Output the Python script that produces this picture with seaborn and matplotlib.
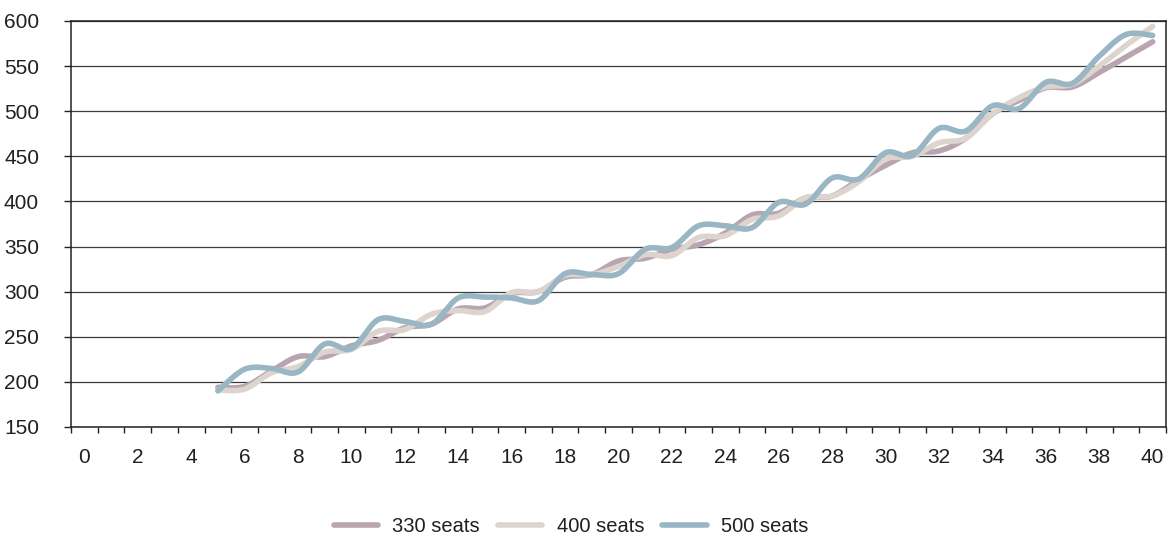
import numpy as np
import pandas as pd
import seaborn as sns
import matplotlib.pyplot as plt
from matplotlib import font_manager

# ==========================================
# SETUP & THEMING
# ==========================================
sns.set_theme(style="ticks")
installed = {f.name for f in font_manager.fontManager.ttflist}
main_font = 'Liberation Sans Narrow' if 'Liberation Sans Narrow' in installed else 'Liberation Sans'
plt.rcParams['font.family'] = [main_font, 'DejaVu Sans']

# ==========================================
# DATA
# ==========================================
x_categories = list(range(0, 41))
x_values = list(range(5, 41))

seats_330 = [194, 195, 212, 228, 228, 240, 246, 260, 264, 281,
             282, 298, 300, 316, 319, 334, 337, 347, 352, 365,
             385, 387, 404, 406, 424, 440, 454, 456, 470, 497,
             512, 526, 527, 543, 560, 577]
seats_400 = [191, 192, 210, 217, 233, 236, 256, 258, 275, 279,
             278, 299, 300, 318, 319, 328, 341, 340, 360, 362,
             380, 384, 404, 406, 422, 447, 450, 465, 470, 497,
             515, 527, 530, 550, 573, 594]
seats_500 = [190, 214, 215, 211, 242, 237, 269, 267, 264, 293,
             294, 293, 290, 320, 319, 320, 347, 349, 373, 373,
             371, 399, 397, 426, 425, 454, 451, 481, 478, 506,
             503, 532, 531, 561, 585, 584]

series_names = ['330 seats', '400 seats', '500 seats']
series_colors = ['#b8a5b0', '#ddd4cd', '#98b6c3']
y_ticks = list(range(150, 601, 50))


def smooth_line(xs, ys, steps=16):
    """Excel-like smoothed line (Catmull-Rom between the data points)."""
    pts = np.column_stack([xs, ys]).astype(float)
    padded = np.vstack([pts[0], pts, pts[-1]])
    out = []
    for i in range(1, len(padded) - 2):
        p0, p1, p2, p3 = padded[i - 1], padded[i], padded[i + 1], padded[i + 2]
        c1 = p1 + (p2 - p0) / 6.0
        c2 = p2 - (p3 - p1) / 6.0
        t = np.linspace(0, 1, steps, endpoint=False)[:, None]
        seg = ((1 - t) ** 3) * p1 + 3 * ((1 - t) ** 2) * t * c1 + 3 * (1 - t) * t ** 2 * c2 + t ** 3 * p2
        out.append(seg)
    out.append(pts[-1:])
    return np.vstack(out)


frames = []
for name, vals in zip(series_names, [seats_330, seats_400, seats_500]):
    curve = smooth_line(x_values, vals)
    frames.append(pd.DataFrame({'x': curve[:, 0], 'y': curve[:, 1], 'series': name}))
df = pd.concat(frames, ignore_index=True)

# ==========================================
# PLOT
# ==========================================
fig = plt.figure(figsize=(11.71, 5.37), dpi=100)
ax = fig.add_axes([71 / 1171, 110 / 537, 1095 / 1171, 406 / 537])

sns.lineplot(data=df, x='x', y='y', hue='series', palette=series_colors,
             hue_order=series_names, estimator=None, sort=False,
             linewidth=4, ax=ax, legend=False)

ax.set_xlim(-0.5, 40.5)
ax.set_ylim(150, 600)
ax.set_yticks(y_ticks)
ax.set_xticks(x_categories[::2])
ax.set_xticks(np.arange(-0.5, 41, 1), minor=True)
ax.set_xlabel('')
ax.set_ylabel('')

ax.grid(axis='y', color='#3c3c3c', linewidth=0.9)
ax.set_axisbelow(True)
for side in ['top', 'right', 'bottom', 'left']:
    ax.spines[side].set_visible(True)
    ax.spines[side].set_color('#222222')
    ax.spines[side].set_linewidth(1.1)

ax.tick_params(axis='x', which='major', length=0, pad=15, labelsize=15, colors='#231f20')
ax.tick_params(axis='x', which='minor', length=4.5, width=1, color='#222222', direction='out')
ax.tick_params(axis='y', which='major', length=5, width=1, color='#222222', pad=18,
               labelsize=15, labelcolor='#231f20', direction='out')

# Legend
handles = [plt.Line2D([0], [0], color=c, linewidth=4) for c in series_colors]
fig.legend(handles, series_names, loc='center', bbox_to_anchor=(571 / 1171, 10 / 537),
           ncol=3, frameon=False, fontsize=14.5, handlelength=2.2,
           handletextpad=0.7, columnspacing=0.9, labelcolor='#231f20')

plt.savefig('out.png', dpi=100)
